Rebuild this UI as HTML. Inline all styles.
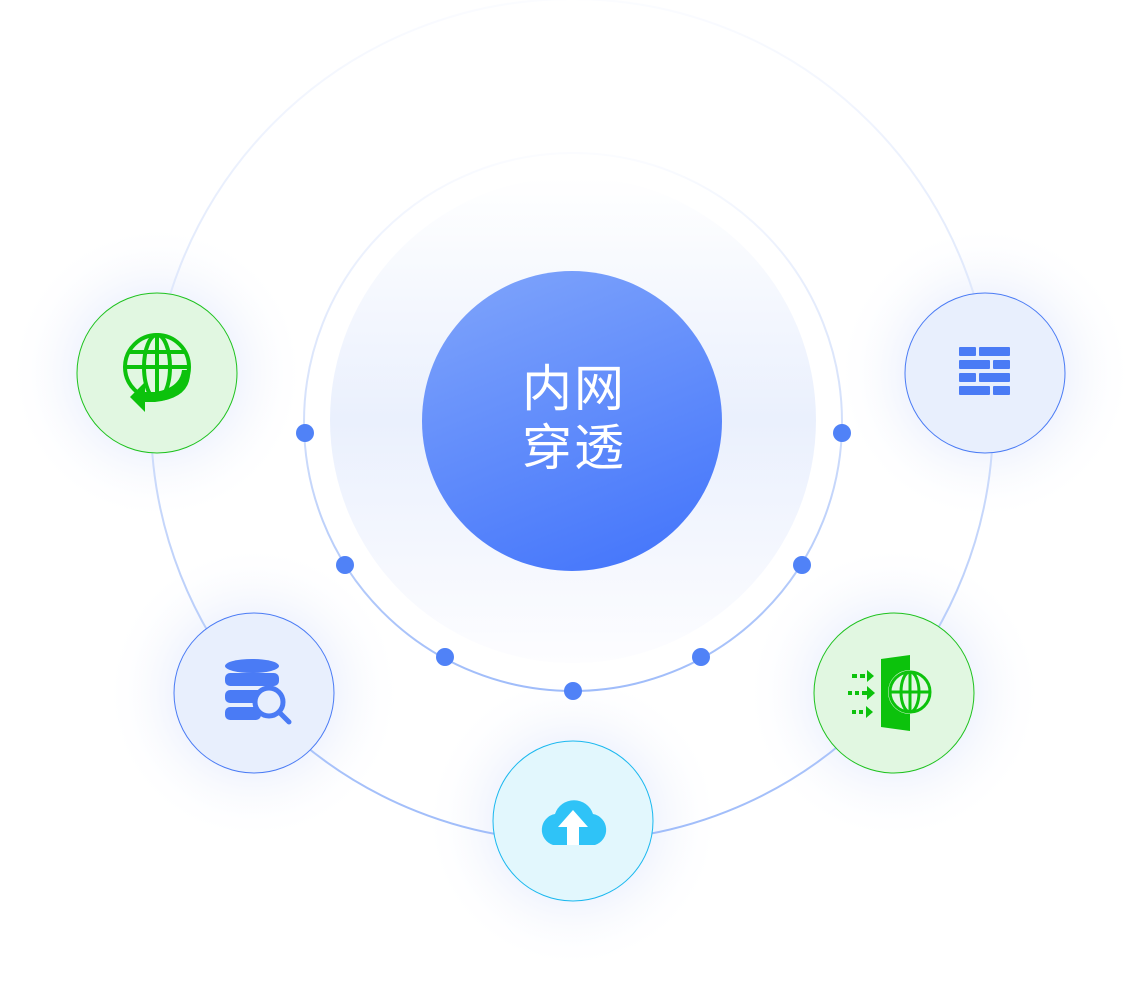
<!DOCTYPE html>
<html><head><meta charset="utf-8"><style>
html,body{margin:0;padding:0;background:#fff;width:1142px;height:983px;overflow:hidden}
</style></head><body>
<svg width="1142" height="983" viewBox="0 0 1142 983" xmlns="http://www.w3.org/2000/svg">
<defs>
<linearGradient id="ring" x1="0" y1="0" x2="0" y2="1">
<stop offset="0" stop-color="#fbfcff"/><stop offset="0.4" stop-color="#dbe5fb"/><stop offset="1" stop-color="#9fbcfa"/>
</linearGradient>
<linearGradient id="fill" x1="0" y1="0" x2="0" y2="1">
<stop offset="0" stop-color="#ffffff"/><stop offset="0.5" stop-color="#eaf0fd"/><stop offset="1" stop-color="#fdfdff"/>
</linearGradient>
<linearGradient id="main" x1="0.3" y1="0" x2="0.7" y2="1">
<stop offset="0" stop-color="#7ba1fb"/><stop offset="1" stop-color="#4677fb"/>
</linearGradient>
<radialGradient id="glow"><stop offset="0.5" stop-color="#eef2fd" stop-opacity="0.9"/><stop offset="1" stop-color="#fff" stop-opacity="0"/></radialGradient>
</defs>
<circle cx="157" cy="373" r="150" fill="url(#glow)"/>
<circle cx="985" cy="373" r="150" fill="url(#glow)"/>
<circle cx="254" cy="693" r="150" fill="url(#glow)"/>
<circle cx="894" cy="693" r="150" fill="url(#glow)"/>
<circle cx="573" cy="821" r="150" fill="url(#glow)"/>
<circle cx="572" cy="420" r="421" fill="none" stroke="url(#ring)" stroke-width="2"/>
<circle cx="573" cy="422" r="269" fill="none" stroke="url(#ring)" stroke-width="2"/>
<circle cx="573" cy="420" r="243" fill="url(#fill)"/>
<circle cx="572" cy="421" r="150" fill="url(#main)"/>
<text x="574" y="406" text-anchor="middle" font-family="Liberation Sans, Noto Sans CJK SC, sans-serif" font-size="50" fill="#fff" letter-spacing="2">内网</text>
<text x="574" y="465" text-anchor="middle" font-family="Liberation Sans, Noto Sans CJK SC, sans-serif" font-size="50" fill="#fff" letter-spacing="2">穿透</text>
<g fill="#5082f7">
<circle cx="305" cy="433" r="9"/><circle cx="842" cy="433" r="9"/>
<circle cx="345" cy="565" r="9"/><circle cx="802" cy="565" r="9"/>
<circle cx="445" cy="657" r="9"/><circle cx="701" cy="657" r="9"/>
<circle cx="573" cy="691" r="9"/>
</g>
<circle cx="157" cy="373" r="80" fill="#e1f7e1" stroke="#1ec21e"/>
<circle cx="985" cy="373" r="80" fill="#e8effd" stroke="#4a7bf5"/>
<circle cx="254" cy="693" r="80" fill="#e8effd" stroke="#4a7bf5"/>
<circle cx="894" cy="693" r="80" fill="#e1f7e1" stroke="#1ec21e"/>
<circle cx="573" cy="821" r="80" fill="#e2f7fd" stroke="#1ab8ef"/>
<g stroke="#0cc20c" stroke-width="4" fill="none">
<circle cx="157" cy="367" r="32"/>
<ellipse cx="157" cy="367" rx="13" ry="32"/>
<line x1="125" y1="367" x2="189" y2="367"/><line x1="157" y1="335" x2="157" y2="399"/>
<line x1="130" y1="352" x2="184" y2="352"/>
</g>
<path d="M190 370 Q192 398 155 402 L145 402 L145 412 L130 397 L145 382 L145 392 L155 392 Q180 388 182 370 Z" fill="#0cc20c"/>
<g fill="#4a7bf5">
<rect x="959" y="347" width="17" height="9" rx="1"/><rect x="979" y="347" width="31" height="9" rx="1"/>
<rect x="959" y="360" width="31" height="9" rx="1"/><rect x="993" y="360" width="17" height="9" rx="1"/>
<rect x="959" y="373" width="17" height="9" rx="1"/><rect x="979" y="373" width="31" height="9" rx="1"/>
<rect x="959" y="386" width="31" height="9" rx="1"/><rect x="993" y="386" width="17" height="9" rx="1"/>
</g>
<g fill="#4a7bf5">
<ellipse cx="252" cy="666" rx="27" ry="7"/>
<rect x="225" y="673" width="54" height="13" rx="5"/>
<rect x="225" y="690" width="40" height="13" rx="5"/>
<rect x="225" y="707" width="36" height="13" rx="5"/>
</g>
<circle cx="269" cy="702" r="14" fill="#e8effd" stroke="#4a7bf5" stroke-width="5"/>
<line x1="279" y1="712" x2="289" y2="722" stroke="#4a7bf5" stroke-width="5" stroke-linecap="round"/>
<path d="M553 845 a16 16 0 0 1 2 -31 a20 20 0 0 1 38 0 a16 16 0 0 1 2 31 Z" fill="#2fc3f7"/>
<path d="M573 810 L588 827 L579 827 L579 845 L567 845 L567 827 L558 827 Z" fill="#fff"/>
<path d="M881 659 L910 655 L910 731 L881 727 Z" fill="#0cc20c"/>
<g fill="#0cc20c">
<rect x="852" y="674" width="5" height="4"/><rect x="860" y="674" width="5" height="4"/><path d="M867 670 L874 676 L867 682 Z"/>
<rect x="848" y="691" width="4" height="4"/><rect x="855" y="691" width="4" height="4"/><rect x="862" y="691" width="6" height="4"/><path d="M867 686 L875 693 L867 700 Z"/>
<rect x="852" y="710" width="4" height="4"/><rect x="859" y="710" width="4" height="4"/><path d="M866 706 L873 712 L866 718 Z"/>
</g>
<circle cx="910" cy="692" r="22" fill="#e1f7e1"/>
<g stroke="#0cc20c" stroke-width="3" fill="none">
<circle cx="910" cy="692" r="20"/><ellipse cx="910" cy="692" rx="9" ry="20"/>
<line x1="890" y1="692" x2="930" y2="692"/><line x1="910" y1="672" x2="910" y2="712"/>
</g>
</svg>
</body></html>
